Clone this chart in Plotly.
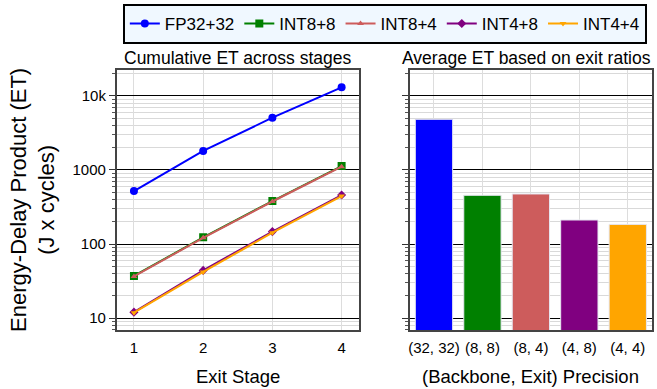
import plotly.graph_objects as go

stages = [1, 2, 3, 4]
fp32_32 = [520, 1810, 5090, 13100]
int8_8 = [37, 123, 380, 1130]
int8_4 = [36.5, 121, 375, 1110]
int4_8 = [12.0, 44, 147, 459]
int4_4 = [11.8, 42, 142, 445]

series_names = ["FP32+32", "INT8+8", "INT8+4", "INT4+8", "INT4+4"]
series_colors = ["#0000FF", "#008000", "#CD5C5C", "#800080", "#FFA500"]
series_symbols = ["circle", "square", "triangle-up", "diamond", "triangle-down"]
series_sizes = [8, 8, 6, 7, 6]
series_values = [fp32_32, int8_8, int8_4, int4_8, int4_4]

bar_labels = ["(32, 32)", "(8, 8)", "(8, 4)", "(4, 8)", "(4, 4)"]
bar_values = [4840, 455, 474, 211, 184]

ytick_vals = [10, 100, 1000, 10000]
ytick_text = ["10", "100", "1000", "10k"]

W, H = 657, 389
FONT = "Liberation Sans, Arial, sans-serif"

fig = go.Figure()
for name, col, sym, sz, vals in zip(series_names, series_colors, series_symbols, series_sizes, series_values):
    fig.add_trace(go.Scatter(
        x=stages, y=vals, mode="lines+markers", name=name,
        line=dict(color=col, width=2),
        marker=dict(color=col, symbol=sym, size=sz),
        xaxis="x", yaxis="y",
    ))

fig.add_trace(go.Bar(
    x=bar_labels, y=bar_values, marker=dict(color=series_colors, line=dict(color="#E6E6F0", width=1)),
    showlegend=False, xaxis="x2", yaxis="y2",
))

def px(x):
    return x / W

def py(y):
    return 1 - y / H

yrange = [0.838, 4.351]
common_y = dict(
    type="log", range=yrange, tickvals=ytick_vals,
    showgrid=True, gridcolor="#000000", gridwidth=1.2,
    showline=True, mirror=True, linecolor="#444444", linewidth=1.5,
    ticks="outside", ticklen=6, tickcolor="#333333",
    minor=dict(dtick="D1", ticks="outside", ticklen=3, tickcolor="#555555",
               showgrid=True, gridcolor="#D9D9D9", gridwidth=1),
    zeroline=False,
)

fig.update_layout(
    width=W, height=H, autosize=False,
    margin=dict(l=0, r=0, t=0, b=0),
    paper_bgcolor="white", plot_bgcolor="white",
    font=dict(family=FONT, size=15, color="black"),
    bargap=0.23,
    xaxis=dict(domain=[px(115), px(358)], range=[0.75, 4.25], tickvals=stages,
               showgrid=True, gridcolor="#DDDDDD", gridwidth=1,
               showline=True, mirror=True, linecolor="#444444", linewidth=1.5,
               ticks="", zeroline=False, anchor="y", ticklabelstandoff=3,
               tickfont=dict(size=15)),
    yaxis=dict(domain=[py(330), py(70)], anchor="x", ticktext=ytick_text,
               tickfont=dict(size=15), **common_y),
    xaxis2=dict(domain=[px(409), px(652)], type="category",
                showgrid=True, gridcolor="#DDDDDD", gridwidth=1,
                showline=True, mirror=True, linecolor="#444444", linewidth=1.5,
                ticks="", anchor="y2", ticklabelstandoff=3, tickfont=dict(size=15)),
    yaxis2=dict(domain=[py(330), py(70)], anchor="x2", showticklabels=False, **common_y),
    legend=dict(orientation="h", x=px(384), xanchor="center", y=py(4), yanchor="top",
                bgcolor="#F0F8FF", bordercolor="#000000", borderwidth=2,
                font=dict(size=17)),
    annotations=[
        dict(text="Cumulative ET across stages", x=px(236.5), y=py(58), xref="paper", yref="paper",
             showarrow=False, font=dict(size=17.5), xanchor="center", yanchor="middle"),
        dict(text="Average ET based on exit ratios", x=px(526), y=py(58), xref="paper", yref="paper",
             showarrow=False, font=dict(size=17.5), xanchor="center", yanchor="middle"),
        dict(text="Exit Stage", x=px(236.5), y=py(376), xref="paper", yref="paper",
             showarrow=False, font=dict(size=18.5), xanchor="center", yanchor="middle"),
        dict(text="(Backbone, Exit) Precision", x=px(530), y=py(376), xref="paper", yref="paper",
             showarrow=False, font=dict(size=18.5), xanchor="center", yanchor="middle"),
        dict(text="Energy-Delay Product (ET)<br>(J x cycles)", x=px(31), y=py(200), xref="paper", yref="paper",
             showarrow=False, font=dict(size=22), textangle=-90, xanchor="center", yanchor="middle"),
    ],
)

fig.write_html("out.html")
